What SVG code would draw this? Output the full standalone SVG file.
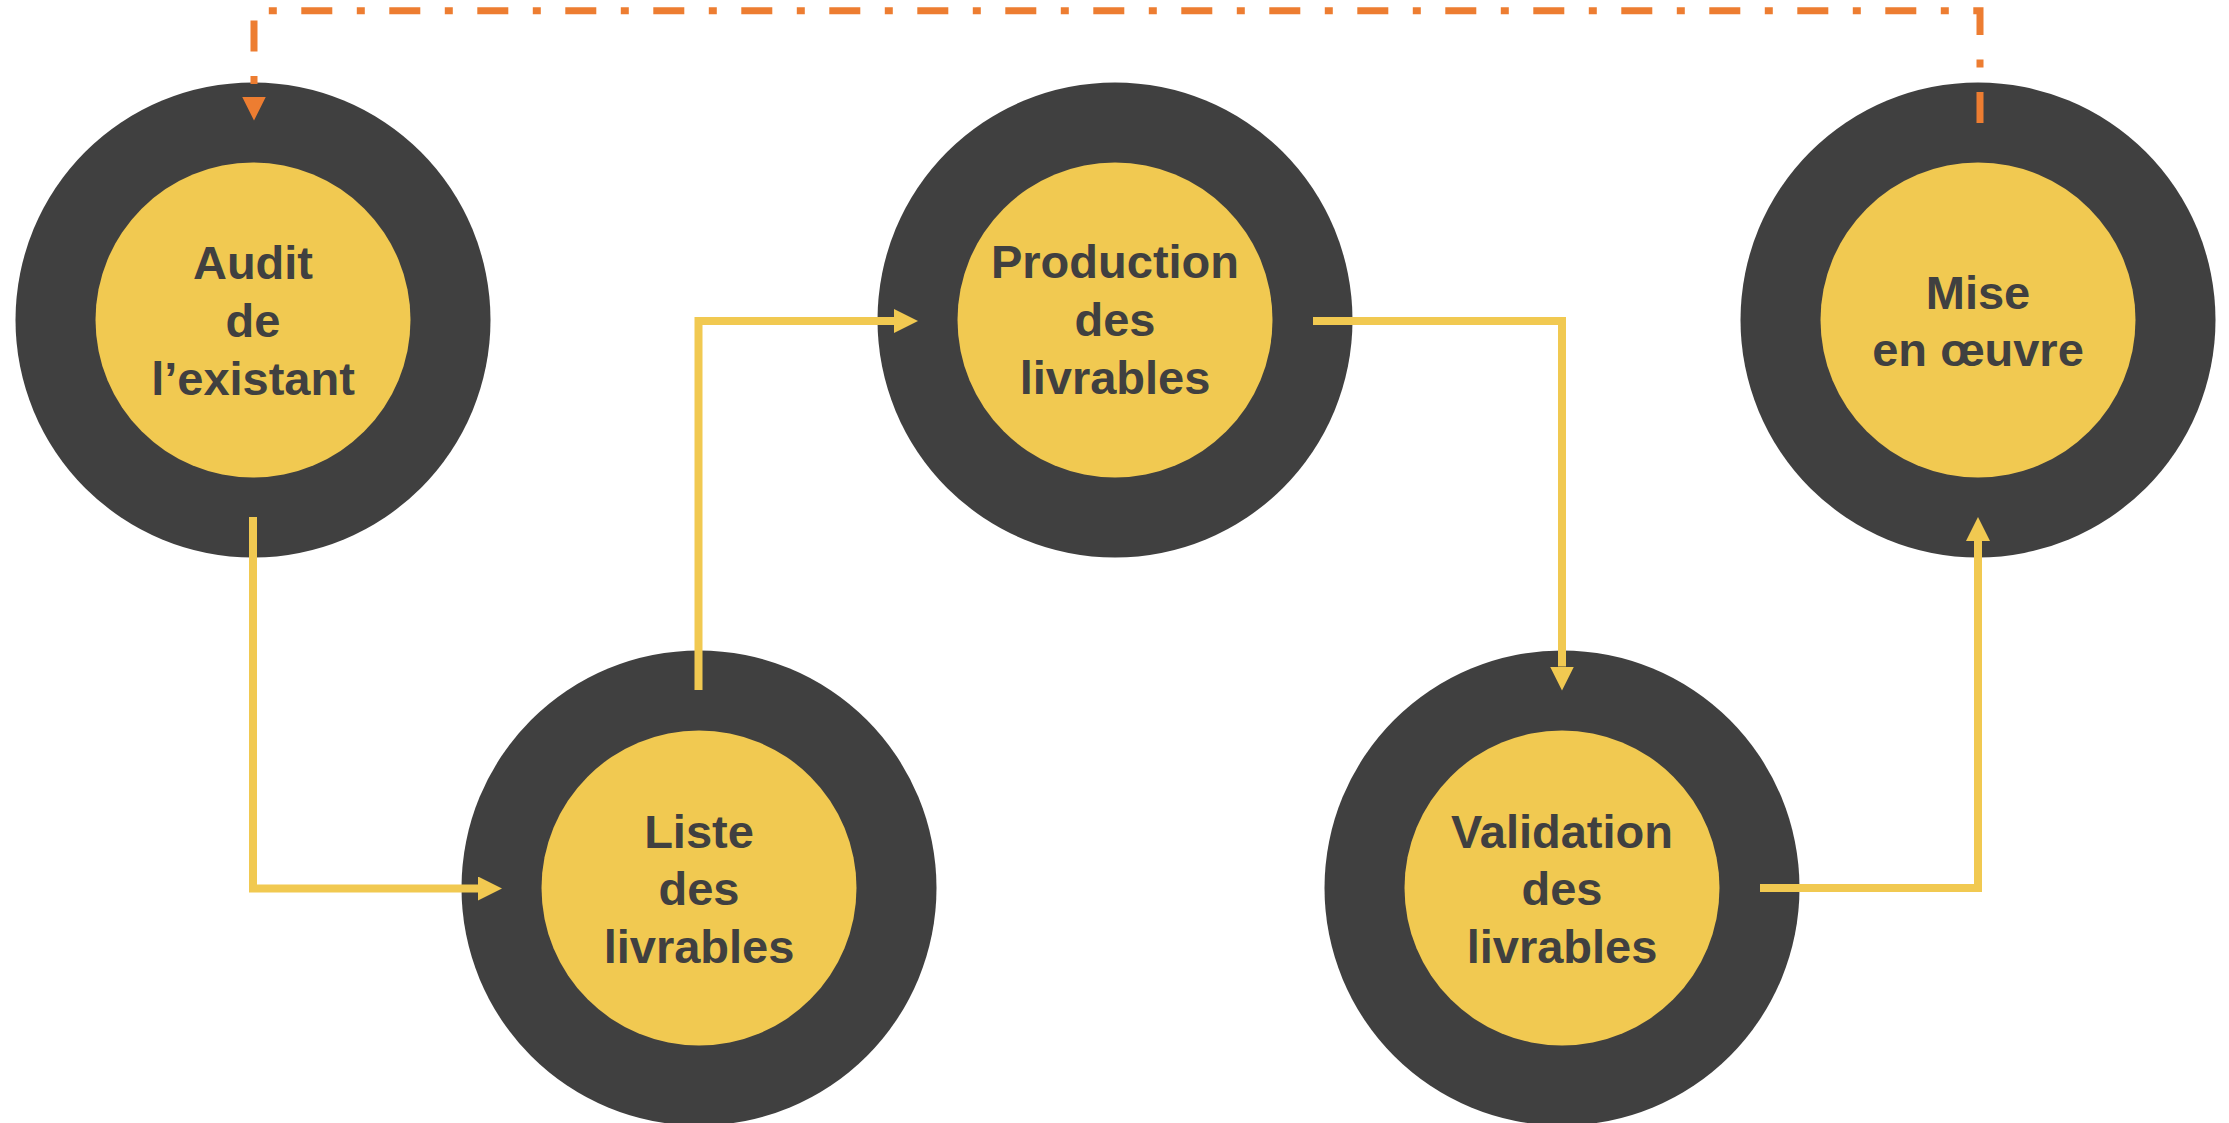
<svg xmlns="http://www.w3.org/2000/svg" width="2229" height="1123" viewBox="0 0 2229 1123">
<style>
.outer{fill:#404040}
.inner{fill:#F1C951}
.lbl{font-family:"Liberation Sans",Arial,sans-serif;font-weight:bold;font-size:47px;fill:#404040;text-anchor:middle}
.flow{fill:none;stroke:#F1C951;stroke-width:8}
.loop{fill:none;stroke:#ED7D31;stroke-width:7;stroke-dasharray:31 24.5 8 24.5}
</style>
<defs>
<marker id="ay" markerUnits="userSpaceOnUse" markerWidth="24" markerHeight="24" viewBox="0 0 24 24" refX="0" refY="12" orient="auto"><path d="M0,0 L24,12 L0,24 z" fill="#F1C951"/></marker>
<marker id="ao" markerUnits="userSpaceOnUse" markerWidth="24" markerHeight="24" viewBox="0 0 24 24" refX="0" refY="12" orient="auto"><path d="M0,0 L24,12 L0,24 z" fill="#ED7D31"/></marker>
</defs>
<rect width="2229" height="1123" fill="#FFFFFF"/>
<g id="node-audit">
<circle class="outer" cx="253" cy="320" r="237.5"/>
<circle class="inner" cx="253" cy="320" r="157.5"/>
<text class="lbl" x="253" y="279">Audit</text>
<text class="lbl" x="253" y="337">de</text>
<text class="lbl" x="253" y="395">l’existant</text>
</g>
<g id="node-liste">
<circle class="outer" cx="699" cy="888" r="237.5"/>
<circle class="inner" cx="699" cy="888" r="157.5"/>
<text class="lbl" x="699" y="848">Liste</text>
<text class="lbl" x="699" y="905">des</text>
<text class="lbl" x="699" y="963">livrables</text>
</g>
<g id="node-production">
<circle class="outer" cx="1115" cy="320" r="237.5"/>
<circle class="inner" cx="1115" cy="320" r="157.5"/>
<text class="lbl" x="1115" y="278">Production</text>
<text class="lbl" x="1115" y="336">des</text>
<text class="lbl" x="1115" y="394">livrables</text>
</g>
<g id="node-validation">
<circle class="outer" cx="1562" cy="888" r="237.5"/>
<circle class="inner" cx="1562" cy="888" r="157.5"/>
<text class="lbl" x="1562" y="848">Validation</text>
<text class="lbl" x="1562" y="905">des</text>
<text class="lbl" x="1562" y="963">livrables</text>
</g>
<g id="node-mise">
<circle class="outer" cx="1978" cy="320" r="237.5"/>
<circle class="inner" cx="1978" cy="320" r="157.5"/>
<text class="lbl" x="1978" y="309">Mise</text>
<text class="lbl" x="1978" y="366">en œuvre</text>
</g>
<g id="connectors">
<path class="flow" d="M253,517 V888.5 H478" marker-end="url(#ay)"/>
<path class="flow" d="M698.5,690 V321 H894" marker-end="url(#ay)"/>
<path class="flow" d="M1313,321 H1562 V666.5" marker-end="url(#ay)"/>
<path class="flow" d="M1760,888 H1978 V541" marker-end="url(#ay)"/>
<path class="loop" d="M1980,123 V10.7 H254 V96.5" marker-end="url(#ao)"/>
</g>
</svg>
